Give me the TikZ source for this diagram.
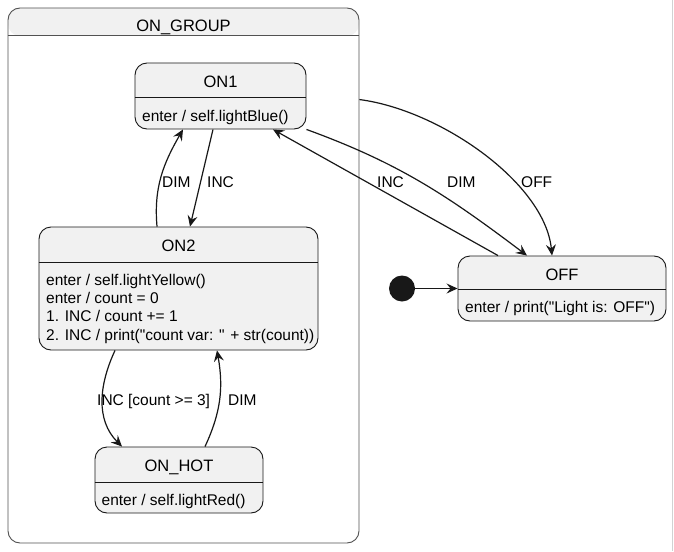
\documentclass[tikz,border=0pt]{standalone}
\usepackage{fontspec}
\setmainfont{Liberation Sans}
\usetikzlibrary{arrows.meta}
\definecolor{statefill}{HTML}{F1F1F1}
\definecolor{stateline}{HTML}{181818}
\tikzset{
	statebox/.style={draw=stateline, fill=statefill, line width=0.9pt, rounded corners=12pt, inner sep=0pt},
	groupbox/.style={draw=stateline!75, fill=white, line width=0.9pt, rounded corners=12pt, inner sep=0pt},
	statename/.style={font=\fontsize{16.5}{19}\selectfont, inner sep=0pt, anchor=base},
	statebody/.style={font=\fontsize{15.5}{18.5}\selectfont, inner sep=0pt, anchor=base west},
	translabel/.style={font=\fontsize{15.5}{18.5}\selectfont, inner sep=0pt, anchor=base west},
	trans/.style={draw=stateline, line width=1.2pt, -{Stealth[length=11pt,width=10pt,inset=4pt]}},
	initdot/.style={circle, fill=stateline, minimum size=26pt, inner sep=0pt},
}
\begin{document}
\begin{tikzpicture}[x=1pt, y=-1pt]
			\useasboundingbox (0,0) rectangle (674,551);
			\draw[gray!35, line width=1pt] (672,0) -- (672,551);

			% composite state
			\node[groupbox, minimum width=351pt, minimum height=535pt,
				path picture={\fill[statefill] (path picture bounding box.north west) rectangle ([yshift=-28pt]path picture bounding box.north east);}
			] (grp) at (183.5,275.5) {};
			\draw[stateline!75, line width=0.9pt] ([yshift=-28pt]grp.north west) -- ([yshift=-28pt]grp.north east);
			\node[statename] (grpname) at (183.5,31.5) {ON\_GROUP};

			% states
			\node[statebox, minimum width=171pt, minimum height=66pt] (on1) at (220.5,96) {};
			\draw[stateline, line width=0.9pt] ([yshift=-35pt]on1.north west) -- ([yshift=-35pt]on1.north east);
			\node[statename] (on1name) at (220.5,87.5) {ON1};
			\node[statebody] (on1body) at (142,121.5) {enter / self.lightBlue()};

			\node[statebox, minimum width=279pt, minimum height=123pt] (on2) at (178.5,288.5) {};
			\draw[stateline, line width=0.9pt] ([yshift=-36pt]on2.north west) -- ([yshift=-36pt]on2.north east);
			\node[statename] (on2name) at (178.5,251.5) {ON2};
			\node[statebody] (on2a) at (46,285) {enter / self.lightYellow()};
			\node[statebody] (on2b) at (46,303.3) {enter / count = 0};
			\node[statebody] (on2c) at (46,321.6) {1. INC / count += 1};
			\node[statebody] (on2d) at (46,340) {2. INC / print(\textquotedbl count var: \textquotedbl{} + str(count))};

			\node[statebox, minimum width=168pt, minimum height=66pt] (onhot) at (179,480) {};
			\draw[stateline, line width=0.9pt] ([yshift=-36pt]onhot.north west) -- ([yshift=-36pt]onhot.north east);
			\node[statename] (onhotname) at (179,471.5) {ON\_HOT};
			\node[statebody] (onhotbody) at (101.5,505) {enter / self.lightRed()};

			\node[statebox, minimum width=208pt, minimum height=65pt] (off) at (562,288.5) {};
			\draw[stateline, line width=0.9pt] ([yshift=-34pt]off.north west) -- ([yshift=-34pt]off.north east);
			\node[statename] (offname) at (562,280) {OFF};
			\node[statebody] (offbody) at (465,312.5) {enter / print(\textquotedbl Light is: OFF\textquotedbl)};

			\node[initdot] (init) at (402,288.5) {};

			% transitions
			\draw[trans] (init.east) -- (off.west);
			\draw[trans] ([xshift=-7.5pt]on1.south) -- ([xshift=11.5pt]on2.north);
			\draw[trans] ([xshift=-21.5pt]on2.north) to[out=95, in=240] ([xshift=-37.5pt]on1.south);
			\draw[trans] ([xshift=-63.5pt]on2.south) to[out=245, in=135] ([xshift=-57pt]onhot.north);
			\draw[trans] ([xshift=26pt]onhot.north) to[out=65, in=280] ([xshift=38.5pt]on2.south);
			\draw[trans] ([yshift=-92pt]grp.north east) .. controls (440,110) and (545,183) .. ([xshift=-10pt]off.north);
			\draw[trans] (on1.south east) to[out=-20, in=143] ([xshift=-35pt]off.north);
			\draw[trans] ([xshift=-64pt]off.north) -- ([xshift=52.5pt]on1.south);

			\node[translabel] (lbldimup) at (162,187) {DIM};
			\node[translabel] (lblincdown) at (207,187) {INC};
			\node[translabel] (lblincon1) at (377,187) {INC};
			\node[translabel] (lbldimoff) at (447,187) {DIM};
			\node[translabel] (lbloff) at (521,187) {OFF};
			\node[translabel] (lblinchot) at (97,405.5) {INC [count >= 3]};
			\node[translabel] (lbldimhot) at (228,405.5) {DIM};
\end{tikzpicture}
\end{document}
